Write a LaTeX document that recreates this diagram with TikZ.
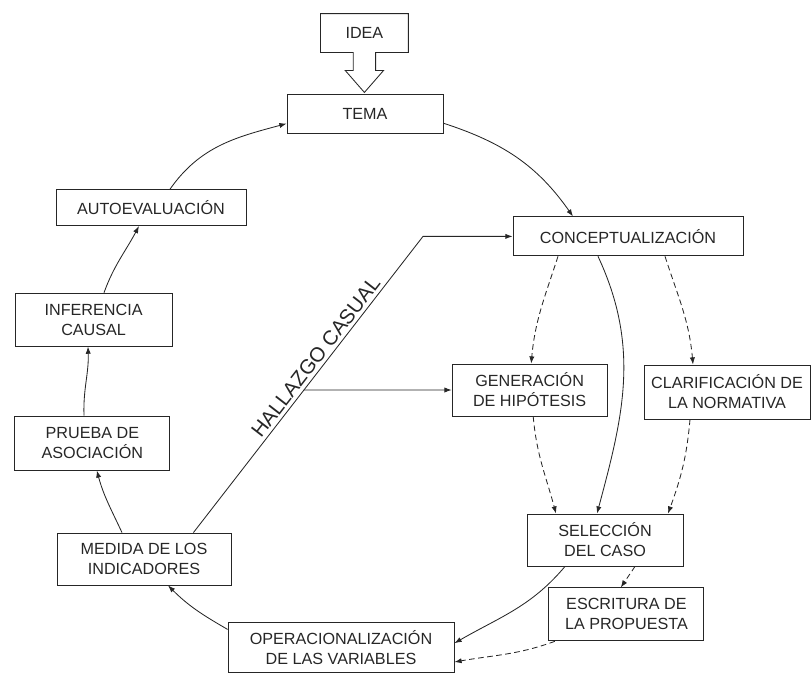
\documentclass[tikz,border=0pt]{standalone}
\usepackage{fontspec}
\setmainfont{Liberation Sans}
\usetikzlibrary{arrows.meta,calc}

\begin{document}
\begin{tikzpicture}[
  >={Latex[length=1.8mm,width=1.3mm]}, line width=0.6pt, color=black!85,
  font=\fontsize{11.5}{14.2}\selectfont,
  blk/.style={draw, minimum width=#1, align=center, inner sep=1pt},
  dsh/.style={dash pattern=on 4pt off 2.5pt},
  lab/.style={font=\fontsize{14.5}{16}\selectfont}]
\useasboundingbox (0,0) rectangle (20.3,-16.825);
% top: idea and tema
\node[minimum width=2.175cm, minimum height=0.95cm] (idea) at (9.11,-0.825) {IDEA};
\draw (idea.south west) |- (idea.north east) |- ($(idea.south)+(0.28,0)$) -- ++(0,-0.45) -- ++(0.2,0)
  -- ($(idea.south)+(0,-1.0)$) -- ($(idea.south)+(-0.48,-0.45)$) -- ++(0.2,0) -- ($(idea.south)+(-0.28,0)$) -- cycle;
\node[blk=3.9cm, minimum height=0.975cm] (tema) at (9.125,-2.84) {TEMA};
% right side: design
\node[blk=5.75cm, minimum height=0.975cm] (concept) at (15.7,-5.91) {CONCEPTUALIZACIÓN};
\node[blk=3.875cm, minimum height=1.3cm] (hipotesis) at (13.24,-9.75) {GENERACIÓN\\DE HIPÓTESIS};
\node[blk=4.15cm, minimum height=1.35cm] (normativa) at (18.175,-9.8) {CLARIFICACIÓN DE\\LA NORMATIVA};
\node[blk=3.9cm, minimum height=1.3cm] (caso) at (15.125,-13.5) {SELECCIÓN\\DEL CASO};
\node[blk=3.875cm, minimum height=1.325cm] (propuesta) at (15.66,-15.36) {ESCRITURA DE\\LA PROPUESTA};
\node[blk=5.65cm, minimum height=1.25cm] (variables) at (8.525,-16.19) {OPERACIONALIZACIÓN\\DE LAS VARIABLES};
% left side: analysis
\node[blk=4.35cm, minimum height=1.3cm] (medida) at (3.6,-13.975) {MEDIDA DE LOS\\INDICADORES};
\node[blk=3.875cm, minimum height=1.35cm] (prueba) at (2.31,-11.075) {PRUEBA DE\\ASOCIACIÓN};
\node[blk=3.925cm, minimum height=1.325cm] (inferencia) at (2.34,-7.99) {INFERENCIA\\CAUSAL};
\node[blk=4.75cm, minimum height=0.9cm] (autoeval) at (3.775,-5.19) {AUTOEVALUACIÓN};
% main cycle
\draw[->] ($(tema.east)+(0,-0.24)$) to[out=-18,in=125] ($(concept.north)+(-1.375,0)$);
\draw[->] ($(concept.south)+(-0.75,0)$) to[out=-65,in=75] ($(caso.north)+(-0.2,0)$);
\draw[->] ($(caso.south)+(-1.0,0)$) to[out=-130,in=30] ($(variables.east)+(0,0.11)$);
\draw[->] ($(variables.north west)+(0,-0.18)$) to[out=150,in=-45] ($(medida.south)+(0.6,0)$);
\draw[->] ($(medida.north)+(-0.55,0)$) to[out=115,in=-75] ($(prueba.south)+(0.11,0)$);
\draw[->] ($(prueba.north)+(-0.21,0)$) to[out=92,in=-88] ($(inferencia.south)+(-0.14,0)$);
\draw[->] ($(inferencia.north)+(0.26,0)$) to[out=70,in=-118] ($(autoeval.south)+(-0.3,0)$);
\draw[->] ($(autoeval.north)+(0.475,0)$) to[out=55,in=195] ($(tema.west)+(0,-0.25)$);
% dashed side paths
\draw[->, dsh] ($(concept.south)+(-1.75,0)$) to[out=-108,in=85] ($(hipotesis.north)+(0.04,0)$);
\draw[->, dsh] ($(concept.south)+(0.925,0)$) to[out=-72,in=95] ($(normativa.north)+(-0.85,0)$);
\draw[->, dsh] ($(hipotesis.south)+(0.09,0)$) to[out=-85,in=105] ($(caso.north)+(-1.225,0)$);
\draw[->, dsh] ($(normativa.south)+(-0.925,0)$) to[out=-95,in=70] ($(caso.north)+(1.575,0)$);
\draw[->, dsh] ($(caso.south)+(0.75,0)$) -- ($(propuesta.north)+(-0.14,0)$);
\draw[->, dsh] ($(propuesta.south)+(-1.79,0)$) to[out=-160,in=10] ($(variables.east)+(0,-0.36)$);
% hallazgo casual
\coordinate (hstart) at ($(medida.north east)+(-0.95,0)$);
\coordinate (kink) at (10.575,-5.91);
\coordinate (branch) at (intersection of hstart--kink and hipotesis.west--hipotesis.east);
\draw[->] (hstart) -- node[lab, pos=0.57, sloped, above=-1pt] (hallazgo) {HALLAZGO CASUAL} (kink) -- (concept.west);
\draw[->] (branch) -- (hipotesis.west);
\end{tikzpicture}
\end{document}
